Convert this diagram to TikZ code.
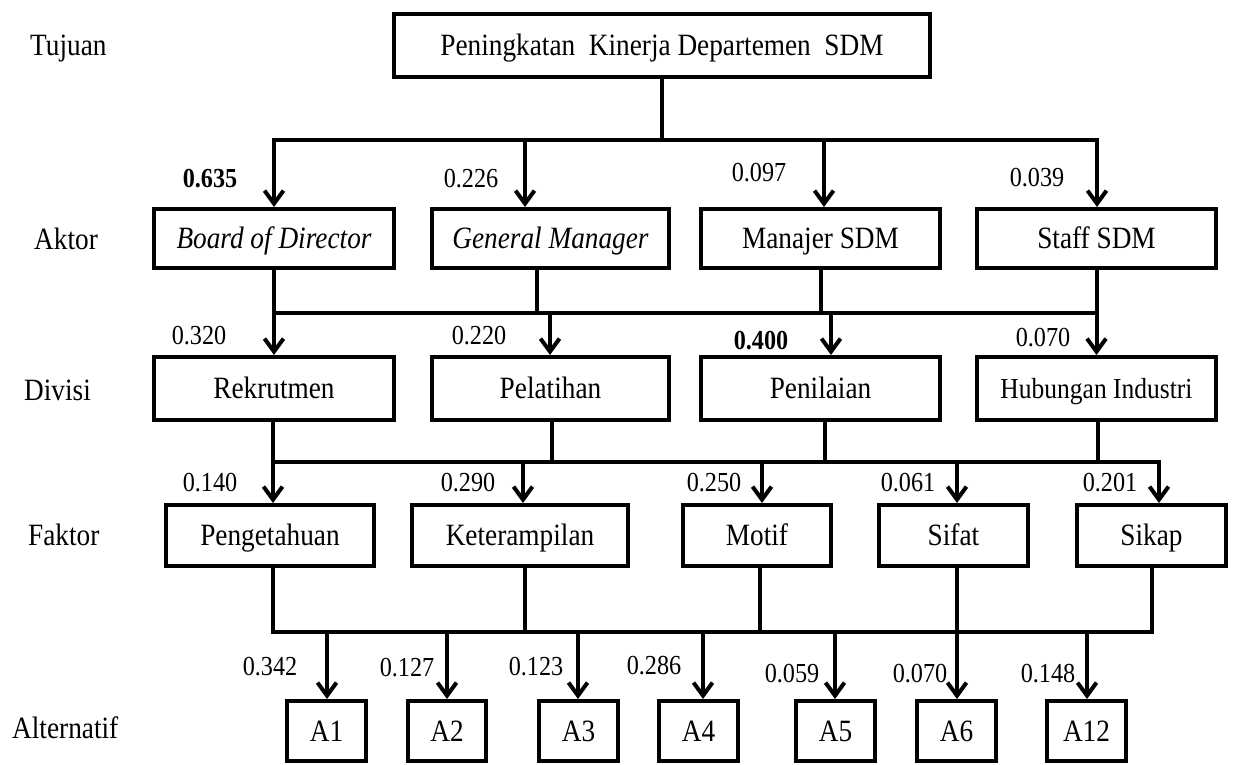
\documentclass[tikz,border=0pt]{standalone}
\usepackage{fontspec}
\setmainfont{Liberation Serif}[FakeStretch=0.88]
\usetikzlibrary{arrows.meta}
\begin{document}
\begin{tikzpicture}[x=1pt,y=-1pt,
  tx/.style={text height=23pt, text depth=2.8pt},
  txs/.style={text height=20.6pt, text depth=2.5pt},
  box/.style={draw, line width=4pt, inner sep=0pt, tx, font=\fontsize{31}{34}\selectfont},
  lvl/.style={anchor=west, inner sep=0pt, tx, font=\fontsize{31}{34}\selectfont},
  wt/.style={inner sep=0pt, txs, font=\fontsize{27.5}{30}\selectfont},
  conn/.style={line width=4pt},
  bus/.style={line width=4pt, line cap=rect},
  arr/.style={line width=4pt, -{Straight Barb[length=13pt,width=19pt]}}]
\useasboundingbox (0,0) rectangle (1235,765);

% level labels
\node[lvl] (lT) at (30,45) {Tujuan};
\node[lvl] (lA) at (34,239) {Aktor};
\node[lvl] (lD) at (24,390) {Divisi};
\node[lvl] (lF) at (28,535) {Faktor};
\node[lvl] (lX) at (12,728) {Alternatif};

% goal
\node[box, minimum width=536pt, minimum height=63pt] (top) at (662,45.5) {Peningkatan\ \ Kinerja Departemen\ \ SDM};

% actors
\node[box, minimum width=240pt, minimum height=59pt] (bod) at (274,238.5) {\itshape Board of Director};
\node[box, minimum width=237pt, minimum height=59pt] (gm) at (550.5,238.5) {\itshape General Manager};
\node[box, minimum width=239pt, minimum height=59pt] (man) at (820.5,238.5) {Manajer SDM};
\node[box, minimum width=239pt, minimum height=59pt] (stf) at (1096.5,238.5) {Staff SDM};

% divisions
\node[box, minimum width=240pt, minimum height=63pt] (rek) at (274,388.5) {Rekrutmen};
\node[box, minimum width=237pt, minimum height=63pt] (pel) at (550.5,388.5) {Pelatihan};
\node[box, minimum width=239pt, minimum height=63pt] (pen) at (820.5,388.5) {Penilaian};
\node[box, minimum width=239pt, minimum height=63pt, font=\fontsize{29}{32}\selectfont] (hub) at (1096.5,388.5) {Hubungan Industri};

% factors
\node[box, minimum width=208pt, minimum height=61pt] (peng) at (270,535.5) {Pengetahuan};
\node[box, minimum width=216pt, minimum height=61pt] (ket) at (520,535.5) {Keterampilan};
\node[box, minimum width=148pt, minimum height=61pt] (mot) at (757,535.5) {Motif};
\node[box, minimum width=149pt, minimum height=61pt] (sif) at (953.5,535.5) {Sifat};
\node[box, minimum width=149pt, minimum height=61pt] (sik) at (1151.5,535.5) {Sikap};

% alternatives
\node[box, minimum width=79pt, minimum height=60pt] (a1) at (326.5,731) {A1};
\node[box, minimum width=78pt, minimum height=60pt] (a2) at (447,731) {A2};
\node[box, minimum width=79pt, minimum height=60pt] (a3) at (578.5,731) {A3};
\node[box, minimum width=79pt, minimum height=60pt] (a4) at (698.5,731) {A4};
\node[box, minimum width=79pt, minimum height=60pt] (a5) at (835.5,731) {A5};
\node[box, minimum width=79pt, minimum height=60pt] (a6) at (956.5,731) {A6};
\node[box, minimum width=79pt, minimum height=60pt] (a12) at (1086.5,731) {A12};

% ---- level 1 -> 2
\coordinate (b1L) at (274,140);
\coordinate (b1R) at (1097,140);
\coordinate (p1a) at (274,140);
\coordinate (p1b) at (525,140);
\coordinate (p1c) at (824,140);
\coordinate (p1d) at (1097,140);
\draw[conn] (top.south) -- (top.south |- b1L);
\draw[bus] (b1L) -- (b1R);
\draw[arr] (p1a) -- (p1a |- bod.north);
\draw[arr] (p1b) -- (p1b |- gm.north);
\draw[arr] (p1c) -- (p1c |- man.north);
\draw[arr] (p1d) -- (p1d |- stf.north);

% ---- level 2 -> 3
\coordinate (b2L) at (274,313);
\coordinate (b2R) at (1097,313);
\coordinate (q2) at (537,313);
\coordinate (q3) at (821,313);
\coordinate (p2b) at (550,313);
\coordinate (p2c) at (831,313);
\draw[bus] (b2L) -- (b2R);
\draw[arr] (bod.south) -- (rek.north);
\draw[conn] (q2 |- gm.south) -- (q2);
\draw[conn] (q3 |- man.south) -- (q3);
\draw[arr] (stf.south) -- (hub.north);
\draw[arr] (p2b) -- (p2b |- pel.north);
\draw[arr] (p2c) -- (p2c |- pen.north);

% ---- level 3 -> 4
\coordinate (b3L) at (273,462);
\coordinate (b3R) at (1159,462);
\coordinate (r2) at (552,462);
\coordinate (r3) at (825,462);
\coordinate (r4) at (1098,462);
\coordinate (p3a) at (273,462);
\coordinate (p3b) at (523,462);
\coordinate (p3c) at (762,462);
\coordinate (p3d) at (957,462);
\coordinate (p3e) at (1159,462);
\draw[conn] (p3a |- rek.south) -- (p3a);
\draw[conn] (r2 |- pel.south) -- (r2);
\draw[conn] (r3 |- pen.south) -- (r3);
\draw[conn] (r4 |- hub.south) -- (r4);
\draw[bus] (b3L) -- (b3R);
\draw[arr] (p3a) -- (p3a |- peng.north);
\draw[arr] (p3b) -- (p3b |- ket.north);
\draw[arr] (p3c) -- (p3c |- mot.north);
\draw[arr] (p3d) -- (p3d |- sif.north);
\draw[arr] (p3e) -- (p3e |- sik.north);

% ---- level 4 -> 5
\coordinate (b4L) at (273,632);
\coordinate (b4R) at (1152,632);
\coordinate (s1) at (273,632);
\coordinate (s2) at (525,632);
\coordinate (s3) at (760,632);
\coordinate (s4) at (957,632);
\coordinate (s5) at (1152,632);
\coordinate (p4a) at (327,632);
\coordinate (p4b) at (447,632);
\coordinate (p4c) at (578,632);
\coordinate (p4d) at (703,632);
\coordinate (p4e) at (835,632);
\coordinate (p4f) at (957,632);
\coordinate (p4g) at (1087,632);
\draw[conn] (s1 |- peng.south) -- (s1);
\draw[conn] (s2 |- ket.south) -- (s2);
\draw[conn] (s3 |- mot.south) -- (s3);
\draw[conn] (s4 |- sif.south) -- (s4);
\draw[conn] (s5 |- sik.south) -- (s5);
\draw[bus] (b4L) -- (b4R);
\draw[arr] (p4a) -- (p4a |- a1.north);
\draw[arr] (p4b) -- (p4b |- a2.north);
\draw[arr] (p4c) -- (p4c |- a3.north);
\draw[arr] (p4d) -- (p4d |- a4.north);
\draw[arr] (p4e) -- (p4e |- a5.north);
\draw[arr] (p4f) -- (p4f |- a6.north);
\draw[arr] (p4g) -- (p4g |- a12.north);

% ---- weights
\node[wt, font=\fontsize{27.5}{30}\selectfont\bfseries] (w1) at (210,178) {0.635};
\node[wt] (w2) at (471,178) {0.226};
\node[wt] (w3) at (759,172) {0.097};
\node[wt] (w4) at (1037,177) {0.039};

\node[wt] (w5) at (199,335) {0.320};
\node[wt] (w6) at (479,335) {0.220};
\node[wt, font=\fontsize{27.5}{30}\selectfont\bfseries] (w7) at (761,340) {0.400};
\node[wt] (w8) at (1043,337) {0.070};

\node[wt] (w9) at (210,482) {0.140};
\node[wt] (w10) at (468,482) {0.290};
\node[wt] (w11) at (714,482) {0.250};
\node[wt] (w12) at (908,482) {0.061};
\node[wt] (w13) at (1110,482) {0.201};

\node[wt] (w14) at (270,666) {0.342};
\node[wt] (w15) at (407,667) {0.127};
\node[wt] (w16) at (536,666) {0.123};
\node[wt] (w17) at (654,665) {0.286};
\node[wt] (w18) at (792,673) {0.059};
\node[wt] (w19) at (920,673) {0.070};
\node[wt] (w20) at (1048,673) {0.148};
\end{tikzpicture}
\end{document}
